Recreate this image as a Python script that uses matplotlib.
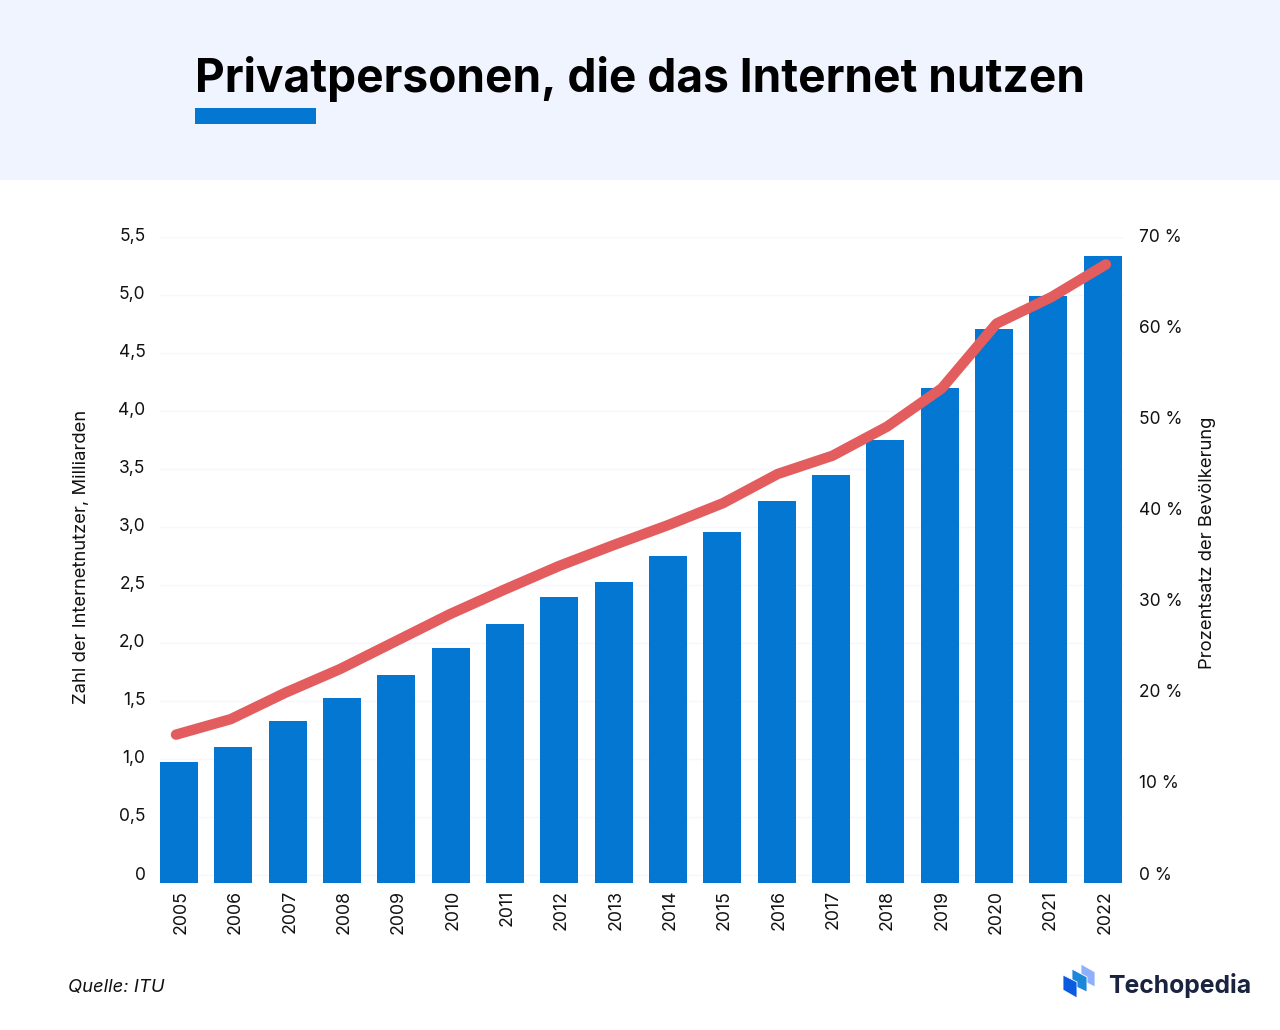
import matplotlib
matplotlib.use('Agg')
import matplotlib.pyplot as plt
from matplotlib.patches import Rectangle, Polygon
from matplotlib.transforms import ScaledTranslation

plt.rcParams['font.family'] = ['Inter', 'DejaVu Sans']

years = [2005, 2006, 2007, 2008, 2009, 2010, 2011, 2012, 2013, 2014, 2015, 2016, 2017, 2018, 2019, 2020, 2021, 2022]
users = [0.97, 1.10, 1.33, 1.53, 1.72, 1.96, 2.16, 2.40, 2.53, 2.75, 2.96, 3.22, 3.45, 3.75, 4.20, 4.71, 4.99, 5.34]
percent = [15.4, 17.1, 20.0, 22.6, 25.6, 28.6, 31.3, 33.9, 36.2, 38.4, 40.8, 44.0, 46.0, 49.2, 53.4, 60.5, 63.4, 67.0]
left_ticks = [0, 0.5, 1.0, 1.5, 2.0, 2.5, 3.0, 3.5, 4.0, 4.5, 5.0, 5.5]
left_labels = ['0', '0,5', '1,0', '1,5', '2,0', '2,5', '3,0', '3,5', '4,0', '4,5', '5,0', '5,5']
right_ticks = [0, 10, 20, 30, 40, 50, 60, 70]
right_labels = ['0 %', '10 %', '20 %', '30 %', '40 %', '50 %', '60 %', '70 %']

W, H = 1280, 1030
BLUE = '#0377D1'
RED = '#E35D5F'
TXT = '#111111'

def fx(px):
    return px / W

def fy(px):
    return 1 - px / H

def shift_labels(labels, dx, dy):
    # nudge tick labels by a few pixels
    off = ScaledTranslation(dx / 100, dy / 100, fig.dpi_scale_trans)
    for lab in labels:
        lab.set_transform(lab.get_transform() + off)

fig = plt.figure(figsize=(12.8, 10.3), dpi=100, facecolor='white')

# header band
fig.add_artist(Rectangle((0, fy(179.5)), 1, 179.5 / H, transform=fig.transFigure, color='#F0F4FF', lw=0))
fig.add_artist(Rectangle((fx(195), fy(124)), 121 / W, 16 / H, transform=fig.transFigure, color=BLUE, lw=0))
fig.text(fx(195), fy(92), 'Privatpersonen, die das Internet nutzen', fontsize=33.15, fontweight='bold',
         color='black', ha='left', va='baseline')

# plot area: 0 gridline sits 8 px above the bar feet
ax = fig.add_axes([fx(160), fy(883), 964 / W, 646 / H])
low = -8 / 116
ax.set_xlim(-0.35, 17.39)
ax.set_ylim(low, 5.5)
ax.set_facecolor('none')
xs = list(range(len(years)))
ax.bar(xs, [u - low for u in users], bottom=low, width=0.7, color=BLUE, zorder=3)
ax.set_yticks(left_ticks)
ax.set_yticklabels(left_labels, fontsize=12.5, color=TXT)
ax.set_xticks(xs)
ax.set_xticklabels(years, rotation=90, fontsize=12.8, color=TXT)
ax.tick_params(axis='both', length=0)
ax.tick_params(axis='x', pad=5)
ax.tick_params(axis='y', pad=10.5)
ax.grid(axis='y', color='#F5F7FF', lw=1, zorder=0)
ax.set_axisbelow(True)
for s in ax.spines.values():
    s.set_visible(False)
shift_labels(ax.get_yticklabels(), 0, 2)
shift_labels(ax.get_xticklabels(), 2, 0)
fig.text(fx(82), fy(557), 'Zahl der Internetnutzer, Milliarden', rotation=90, fontsize=13.3, color=TXT,
         ha='center', va='center')

# the line runs on its own slightly wider x scale than the bars
ax2 = fig.add_axes([fx(160), fy(883), 964 / W, 646 / H])
ax2.set_facecolor('none')
ax2.set_xlim(-0.2925, 17.33)
ax2.set_ylim(low * 70 / 5.5, 70)
ax2.plot(xs, percent, color=RED, lw=7.5, solid_capstyle='round', solid_joinstyle='round', zorder=5)
ax2.set_xticks([])
ax2.yaxis.tick_right()
ax2.set_yticks(right_ticks)
ax2.set_yticklabels(right_labels, fontsize=12.5, color=TXT)
ax2.tick_params(axis='y', length=0, pad=10.5)
for s in ax2.spines.values():
    s.set_visible(False)
shift_labels(ax2.get_yticklabels(), 0, 2)
fig.text(fx(1207), fy(543), 'Prozentsatz der Bevölkerung', rotation=90, fontsize=13.3, color=TXT,
         ha='center', va='center')

fig.text(fx(68), fy(992), 'Quelle: ITU', fontsize=13.3, style='italic', color=TXT, ha='left', va='baseline')

# logo
logo = [([(1081, 964), (1095, 972), (1095, 987), (1081, 980)], '#8FB0FF'),
        ([(1072, 969), (1087, 977), (1087, 992), (1072, 985)], '#1E88D8'),
        ([(1063, 975), (1077, 982), (1077, 998), (1063, 990)], '#0B5BE0')]
for pts, col in logo:
    fig.add_artist(Polygon([(fx(x), fy(y)) for x, y in pts], closed=True, transform=fig.transFigure,
                           facecolor=col, edgecolor='white', lw=0.6))
fig.text(fx(1108), fy(993), 'Techopedia', fontsize=17.8, fontweight='bold', color='#1A2340', ha='left', va='baseline')

fig.savefig('out.png', dpi=100)
